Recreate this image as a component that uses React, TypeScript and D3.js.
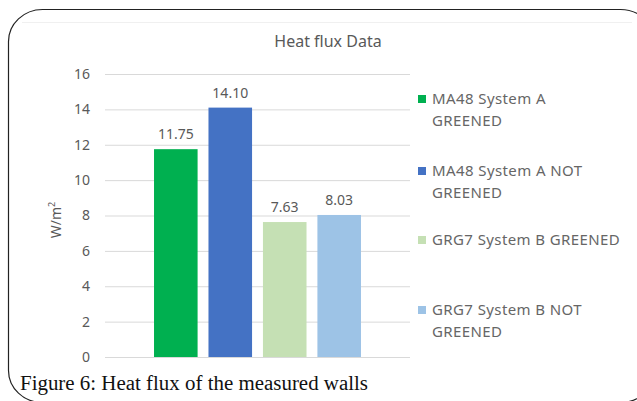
import { useEffect, useRef } from "react";
import * as d3 from "d3";

const categories = [
  "MA48 System A GREENED",
  "MA48 System A NOT GREENED",
  "GRG7 System B GREENED",
  "GRG7 System B NOT GREENED",
];
const values = [11.75, 14.1, 7.63, 8.03];
const colors = ["#00b050", "#4472c4", "#c5e0b4", "#9dc3e6"];
const legendLines = [
  ["MA48 System A", "GREENED"],
  ["MA48 System A NOT", "GREENED"],
  ["GRG7 System B GREENED"],
  ["GRG7 System B NOT", "GREENED"],
];
const yTicks = [0, 2, 4, 6, 8, 10, 12, 14, 16];

export default function App() {
  const chartRef = useRef<SVGSVGElement | null>(null);

  useEffect(() => {
    if (!chartRef.current) return;
    const width = 637;
    const height = 401;
    const font = "'Noto Sans', sans-serif";
    const grey = "#595959";

    d3.select(chartRef.current).selectAll("*").remove();
    const svg = d3.select(chartRef.current)
      .attr("width", width)
      .attr("height", height);

    svg.append("rect")
      .attr("width", width).attr("height", height)
      .attr("fill", "#fff");

    // faint chart area edge
    svg.append("line")
      .attr("x1", 22).attr("x2", 632)
      .attr("y1", 22.5).attr("y2", 22.5)
      .attr("stroke", "#f0f0f0");

    // rounded frame round the figure
    svg.append("rect")
      .attr("x", 8.5).attr("y", 9.5)
      .attr("width", 646).attr("height", 393)
      .attr("rx", 34).attr("ry", 32)
      .attr("fill", "none")
      .attr("stroke", "#222")
      .attr("stroke-width", 1.2);

    const y = d3.scaleLinear().domain([0, 16]).range([357, 74]);
    const x = d3.scaleBand<string>()
      .domain(categories)
      .range([105, 410])
      .paddingInner(0.2)
      .paddingOuter(0.9);

    const g = svg.append("g");

    g.selectAll("line.grid")
      .data(yTicks)
      .enter()
      .append("line")
      .attr("class", "grid")
      .attr("x1", 105).attr("x2", 410)
      .attr("y1", (d) => y(d) + 0.5).attr("y2", (d) => y(d) + 0.5)
      .attr("stroke", "#d9d9d9")
      .attr("stroke-width", 1);

    g.selectAll("text.tick")
      .data(yTicks)
      .enter()
      .append("text")
      .attr("class", "tick")
      .attr("x", 90)
      .attr("y", (d) => y(d))
      .attr("dy", "0.35em")
      .attr("text-anchor", "end")
      .attr("font-family", font)
      .attr("font-size", 14)
      .attr("fill", grey)
      .text((d) => d);

    const yl = g.append("text")
      .attr("transform", "translate(61, 220) rotate(-90)")
      .attr("text-anchor", "middle")
      .attr("font-family", font)
      .attr("font-size", 14)
      .attr("fill", grey);
    yl.append("tspan").text("W/m");
    yl.append("tspan").attr("font-size", 9).attr("dy", -6).text("2");

    g.selectAll("rect.bar")
      .data(categories)
      .enter()
      .append("rect")
      .attr("class", "bar")
      .attr("x", (d) => x(d) as number)
      .attr("width", x.bandwidth())
      .attr("y", (d, i) => y(values[i]))
      .attr("height", (d, i) => y(0) - y(values[i]))
      .attr("fill", (d, i) => colors[i]);

    g.selectAll("text.val")
      .data(categories)
      .enter()
      .append("text")
      .attr("class", "val")
      .attr("x", (d) => (x(d) as number) + x.bandwidth() / 2)
      .attr("y", (d, i) => y(values[i]) - 10)
      .attr("text-anchor", "middle")
      .attr("font-family", font)
      .attr("font-size", 14)
      .attr("fill", grey)
      .text((d, i) => values[i].toFixed(2));

    svg.append("text")
      .attr("x", 328).attr("y", 47)
      .attr("text-anchor", "middle")
      .attr("font-family", font)
      .attr("font-size", 16)
      .attr("fill", grey)
      .text("Heat flux Data");

    const legendY = [99, 171, 240, 310];
    const leg = svg.selectAll("g.leg")
      .data(categories)
      .enter()
      .append("g")
      .attr("class", "leg")
      .attr("transform", (d, i) => `translate(418, ${legendY[i]})`);
    leg.append("rect")
      .attr("x", 0).attr("y", -4)
      .attr("width", 8).attr("height", 8)
      .attr("fill", (d, i) => colors[i]);
    leg.each(function (d, i) {
      const t = d3.select(this).append("text")
        .attr("font-family", font)
        .attr("font-size", 15)
        .attr("letter-spacing", 0.4)
        .attr("fill", "#666");
      legendLines[i].forEach((line, j) => {
        t.append("tspan")
          .attr("x", 14)
          .attr("y", j * 22)
          .attr("dy", "0.35em")
          .text(line);
      });
    });

    svg.append("text")
      .attr("x", 20).attr("y", 390)
      .attr("font-family", "'Liberation Serif', serif")
      .attr("font-size", 20)
      .attr("textLength", 348)
      .attr("lengthAdjust", "spacingAndGlyphs")
      .attr("fill", "#111")
      .text("Figure 6: Heat flux of the measured walls");
  }, []);

  return (
    <svg
      ref={(el) => { if (el) chartRef.current = el; }}
      style={{ position: "absolute", left: 0, top: 0 }}
    ></svg>
  );
}
